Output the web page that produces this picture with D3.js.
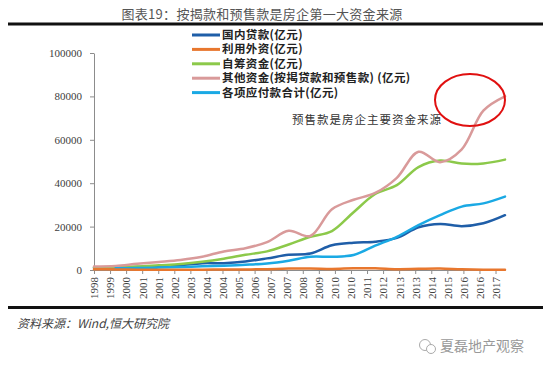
<!DOCTYPE html>
<html>
<head>
<meta charset="utf-8">
<script src="https://cdn.jsdelivr.net/npm/d3@7"></script>
<style>
  body { margin: 0; background: #fff; }
  svg { display: block; }
  .axis path, .axis line { stroke: #8c8c8c; }
  .axis text { font-family: "Liberation Serif", serif; font-size: 11px; fill: #404040; }
</style>
</head>
<body>
<div id="chart"></div>
<script>
// funding sources of property developers, 1998-2017 (亿元)
var years = d3.range(1998, 2018);
var domesticLoans = [1053, 1111, 1385, 1692, 2220, 3138, 3158, 3918, 5357, 7016, 7606, 11365, 12564, 13057, 14778, 19673, 21243, 20214, 21512, 25242];
var foreignCapital = [361, 257, 168, 136, 158, 170, 228, 258, 400, 641, 728, 479, 791, 814, 402, 534, 639, 297, 140, 168];
var selfRaised = [1167, 1345, 1614, 2184, 2739, 3770, 5208, 7000, 8597, 11773, 15312, 17949, 26637, 35005, 39082, 47425, 50420, 49038, 49133, 50872];
var otherFunds = [1563, 1796, 2830, 3685, 4632, 6107, 8563, 10046, 12859, 18049, 15667, 27970, 32355, 35500, 42482, 54491, 49692, 55608, 73428, 80020];
// payables start in 1999
var payables = [null, 800, 900, 1100, 1400, 1700, 2000, 2400, 3000, 4300, 6100, 6100, 6900, 11200, 15300, 20700, 25300, 29200, 30700, 33800];

var seriesNames = ["国内贷款(亿元)", "利用外资(亿元)", "自筹资金(亿元)", "其他资金(按揭贷款和预售款) (亿元)", "各项应付款合计(亿元)"];
var seriesColors = ["#1f5ea8", "#e8772e", "#8cc94a", "#d99a9a", "#1aa9e4"];
var seriesValues = [domesticLoans, foreignCapital, selfRaised, otherFunds, payables];

// the date axis labels as printed (ticks fall every ~271 days)
var tickLabels = ["1998", "1999", "2000", "2001", "2001", "2002", "2003", "2004", "2004", "2005", "2006", "2007", "2007",
  "2008", "2009", "2010", "2010", "2011", "2012", "2013", "2013", "2014", "2015", "2016", "2016", "2017"];
var tickStep = 271 / 365;
var yTicks = [0, 20000, 40000, 60000, 80000, 100000];

var svgWidth = 550;
var svgHeight = 369;

var svg = d3.select("#chart")
  .append("svg")
  .attr("width", svgWidth)
  .attr("height", svgHeight);

// title and rules
svg.append("text")
  .attr("x", 262)
  .attr("y", 14)
  .attr("dy", "0.35em")
  .attr("text-anchor", "middle")
  .style("font-family", "'Noto Sans CJK SC', sans-serif")
  .style("font-size", "13px")
  .style("letter-spacing", "0.3px")
  .style("fill", "#555")
  .text("图表19：按揭款和预售款是房企第一大资金来源");

svg.append("line")
  .attr("x1", 8).attr("x2", 543)
  .attr("y1", 24).attr("y2", 24)
  .attr("stroke", "#111").attr("stroke-width", 3);

svg.append("line")
  .attr("x1", 8).attr("x2", 543)
  .attr("y1", 307.5).attr("y2", 307.5)
  .attr("stroke", "#111").attr("stroke-width", 3);

// scales
var xscale = d3.scaleLinear()
  .domain([1998, 2017])
  .range([94, 505]);

var yscale = d3.scaleLinear()
  .domain([0, 100000])
  .range([270, 53]);

// axes
var leftAxis = d3.axisLeft(yscale)
  .tickValues(yTicks)
  .tickFormat(d3.format("d"))
  .tickSize(4)
  .tickSizeOuter(0)
  .tickPadding(8);

var bottomAxis = d3.axisBottom(xscale)
  .tickValues(tickLabels.map((d, i) => 1998 + i * tickStep))
  .tickFormat((d, i) => tickLabels[i])
  .tickSize(4)
  .tickSizeOuter(0);

svg.append("g")
  .attr("class", "axis")
  .attr("transform", "translate(94, 0)")
  .call(leftAxis);

var x_axis = svg.append("g")
  .attr("class", "axis")
  .attr("transform", "translate(0, 270)")
  .call(bottomAxis);

x_axis.selectAll("text")
  .attr("transform", "rotate(-90)")
  .attr("x", -7)
  .attr("y", 0)
  .attr("dy", "0.35em")
  .style("text-anchor", "end");

// lines
var line = d3.line()
  .x(d => xscale(d[0]))
  .y(d => yscale(d[1]))
  .curve(d3.curveCatmullRom.alpha(0.5));

var drawOrder = [0, 2, 3, 4, 1];
drawOrder.forEach(function(k) {
  var pts = years.map((yr, i) => [yr, seriesValues[k][i]]).filter(d => d[1] !== null);
  svg.append("path")
    .datum(pts)
    .attr("d", line)
    .attr("fill", "none")
    .attr("stroke", seriesColors[k])
    .attr("stroke-width", 2.5)
    .attr("stroke-linecap", "round");
});

// legend
var legend = svg.append("g");
seriesNames.forEach(function(name, i) {
  var ly = 35 + i * 14.4;
  legend.append("line")
    .attr("x1", 192).attr("x2", 220)
    .attr("y1", ly).attr("y2", ly)
    .attr("stroke", seriesColors[i])
    .attr("stroke-width", 3);
  legend.append("text")
    .attr("x", 222)
    .attr("y", ly)
    .attr("dy", "0.35em")
    .style("font-family", "'Noto Sans CJK SC', sans-serif")
    .style("font-size", "11.5px")
    .style("letter-spacing", "0.4px")
    .style("font-weight", "bold")
    .style("fill", "#222")
    .text(name);
});

// annotation
svg.append("text")
  .attr("x", 292)
  .attr("y", 120)
  .attr("dy", "0.35em")
  .style("font-family", "'Noto Sans CJK SC', sans-serif")
  .style("font-size", "11.5px")
  .style("letter-spacing", "1px")
  .style("fill", "#333")
  .text("预售款是房企主要资金来源");

svg.append("ellipse")
  .attr("cx", 470)
  .attr("cy", 100)
  .attr("rx", 35)
  .attr("ry", 26)
  .attr("fill", "none")
  .attr("stroke", "#e01010")
  .attr("stroke-width", 2);

// source note
svg.append("text")
  .attr("x", 17)
  .attr("y", 324)
  .attr("dy", "0.35em")
  .style("font-family", "'Noto Sans CJK SC', sans-serif")
  .style("font-size", "12px")
  .style("font-style", "italic")
  .style("fill", "#444")
  .text("资料来源：Wind,恒大研究院");

// watermark
var wm = svg.append("g").attr("transform", "translate(425, 346)");
wm.append("circle").attr("cx", 0).attr("cy", -1).attr("r", 5.5)
  .attr("fill", "none").attr("stroke", "#aaa").attr("stroke-width", 1);
wm.append("circle").attr("cx", 6).attr("cy", 3).attr("r", 4.5)
  .attr("fill", "#fff").attr("stroke", "#aaa").attr("stroke-width", 1);
svg.append("text")
  .attr("x", 440)
  .attr("y", 346)
  .attr("dy", "0.35em")
  .style("font-family", "'Noto Sans CJK SC', sans-serif")
  .style("font-size", "14px")
  .style("fill", "#999")
  .text("夏磊地产观察");
</script>
</body>
</html>
